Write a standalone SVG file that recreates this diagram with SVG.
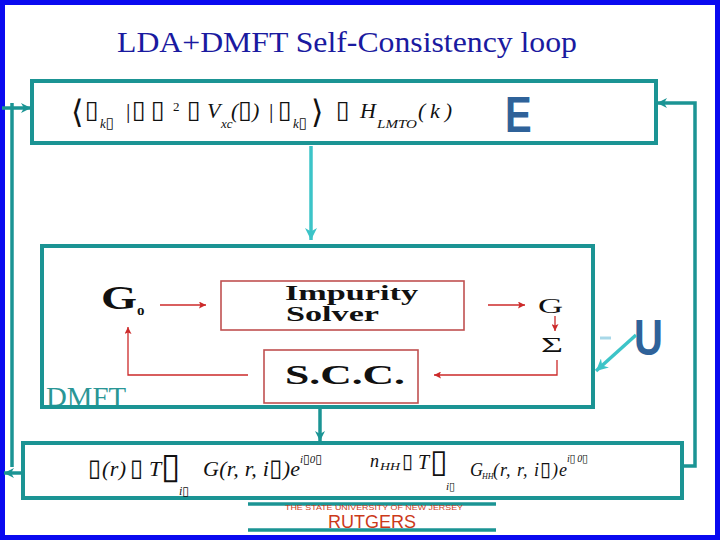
<svg xmlns="http://www.w3.org/2000/svg" width="720" height="540" viewBox="0 0 720 540">
<style>
.teal{fill:none;stroke:#1b9494;stroke-width:4}
.conn{fill:none;stroke:#1b9494;stroke-width:3.5}
.cyan{fill:none;stroke:#3cc4c8;stroke-width:3.5}
.red{fill:none;stroke:#cc2a2a;stroke-width:1.3}
.rbox{fill:none;stroke:#c05050;stroke-width:1.6}
.math{font-family:"Liberation Serif",serif;font-style:italic;fill:#111}
.rm{font-family:"Liberation Serif",serif;font-style:normal;fill:#111}
.tofu{font-family:"DejaVu Sans",sans-serif;font-style:normal;fill:#111}
.sb{font-family:"Liberation Serif",serif;font-weight:bold;fill:#111}
.big{font-family:"Liberation Sans",Arial,sans-serif;font-weight:bold;fill:#2f6299}
.rut{font-family:"Liberation Sans",Arial,sans-serif;fill:#cc3a1a}
</style>
<defs>
<marker id="ahT" viewBox="0 0 10 10" refX="10" refY="5" markerUnits="userSpaceOnUse" markerWidth="10" markerHeight="10" orient="auto"><path d="M0,0 L10,5 L0,10 L3,5 z" fill="#1b9494"/></marker>
<marker id="ahC" viewBox="0 0 10 10" refX="10" refY="5" markerUnits="userSpaceOnUse" markerWidth="12" markerHeight="12" orient="auto"><path d="M0,0 L10,5 L0,10 L3,5 z" fill="#3cc4c8"/></marker>
<marker id="ahR" viewBox="0 0 10 10" refX="10" refY="5" markerUnits="userSpaceOnUse" markerWidth="8" markerHeight="7" orient="auto"><path d="M0,0 L10,5 L0,10 L2,5 z" fill="#cc2a2a"/></marker>
</defs>
<rect width="720" height="540" fill="#ffffff"/>
<rect x="2.5" y="2.5" width="715" height="535" fill="none" stroke="#0a0af0" stroke-width="5"/>
<text x="117" y="52" font-family="Liberation Serif, serif" font-size="30" textLength="460" lengthAdjust="spacingAndGlyphs" fill="#1a1aa0">LDA+DMFT Self-Consistency loop</text>

<g id="lda-box">
<rect x="32" y="81" width="624" height="62" class="teal"/>
<text x="71" y="123" class="tofu" font-size="32">⟨</text>
<text x="85" y="118" class="tofu" font-size="25">▯</text>
<text x="100" y="128" class="math" font-size="13">k<tspan class="tofu" font-size="15">▯</tspan></text>
<text x="126" y="118" class="rm" font-size="22">|</text>
<text x="132" y="118" class="tofu" font-size="25">▯</text>
<text x="151" y="118" class="tofu" font-size="25">▯</text>
<text x="173" y="111" class="rm" font-size="13">2</text>
<text x="187" y="118" class="tofu" font-size="25">▯</text>
<text x="207" y="118" class="math" font-size="22">V</text>
<text x="221" y="128" class="math" font-size="13">xc</text>
<text x="231" y="118" class="math" font-size="22">(<tspan class="tofu" font-size="25">▯</tspan>)</text>
<text x="269" y="118" class="rm" font-size="22">|</text>
<text x="278" y="118" class="tofu" font-size="25">▯</text>
<text x="293" y="128" class="math" font-size="13">k<tspan class="tofu" font-size="15">▯</tspan></text>
<text x="311" y="123" class="tofu" font-size="32">⟩</text>
<text x="336" y="118" class="tofu" font-size="25">▯</text>
<text x="360" y="118" class="math" font-size="22">H</text>
<text x="377" y="128" class="math" font-size="13" textLength="40" lengthAdjust="spacingAndGlyphs">LMTO</text>
<text x="418" y="118" class="math" font-size="22" textLength="34" lengthAdjust="spacing">(k)</text>
<text class="big" font-size="40" transform="translate(505,132) scale(1,1.27)">E</text>
</g>

<g id="dmft-box">
<text x="46" y="406" font-family="Liberation Serif, serif" font-size="27" fill="#2a9696" textLength="80" lengthAdjust="spacingAndGlyphs">DMFT</text>
<rect x="42" y="246" width="551" height="161" class="teal"/>
</g>

<g id="g0">
<text x="101" y="309" class="sb" font-size="33" textLength="36" lengthAdjust="spacingAndGlyphs">G</text>
<text x="137" y="315" class="sb" font-size="15">o</text>
</g>

<g id="impurity-solver">
<rect x="221" y="281" width="243" height="49" class="rbox"/>
<text x="285" y="300" class="sb" font-size="20" textLength="133" lengthAdjust="spacingAndGlyphs">Impurity</text>
<text x="286" y="321" class="sb" font-size="20" textLength="93" lengthAdjust="spacingAndGlyphs">Solver</text>
</g>

<g id="g">
<text x="538" y="313" class="rm" font-size="21" textLength="25" lengthAdjust="spacingAndGlyphs">G</text>
</g>

<g id="sigma">
<text x="541" y="352" class="rm" font-size="21" textLength="22" lengthAdjust="spacingAndGlyphs">Σ</text>
</g>

<g id="scc">
<rect x="264" y="350" width="154" height="53" class="rbox"/>
<text x="285" y="384" class="sb" font-size="27" textLength="120" lengthAdjust="spacingAndGlyphs">S.C.C.</text>
</g>

<g id="u-label">
<text class="big" font-size="40" transform="translate(634,355) scale(1,1.25)">U</text>
</g>

<g id="density-box">
<rect x="23" y="443" width="659" height="55" class="teal"/>
<text x="88" y="476" class="tofu" font-size="24">▯</text>
<text x="102" y="476" class="math" font-size="22" textLength="24" lengthAdjust="spacing">(r)</text>
<text x="130" y="476" class="tofu" font-size="24">▯</text>
<text x="149" y="476" class="math" font-size="22">T</text>
<text x="161" y="478" class="tofu" font-size="36">▯</text>
<text x="179" y="495" class="math" font-size="12">i<tspan class="tofu" font-size="12">▯</tspan></text>
<text x="203" y="476" class="math" font-size="22" textLength="97" lengthAdjust="spacing">G(r, r, i<tspan class="tofu" font-size="24">▯</tspan>)e</text>
<text x="300" y="463" class="math" font-size="11">i<tspan class="tofu" font-size="12">▯</tspan>0<tspan class="tofu" font-size="12">▯</tspan></text>
<text x="370" y="467" class="math" font-size="18">n</text>
<text x="380" y="470" class="math" font-size="10" textLength="20" lengthAdjust="spacingAndGlyphs">HH</text>
<text x="402" y="468" class="tofu" font-size="20">▯</text>
<text x="418" y="469" class="math" font-size="20">T</text>
<text x="430" y="472" class="tofu" font-size="32">▯</text>
<text x="446" y="490" class="math" font-size="11">i<tspan class="tofu" font-size="11">▯</tspan></text>
<text x="470" y="476" class="math" font-size="18">G</text>
<text x="482" y="479" class="math" font-size="8">HH</text>
<text x="493" y="476" class="math" font-size="18" textLength="74" lengthAdjust="spacing">(r, r, i<tspan class="tofu" font-size="20">▯</tspan>)e</text>
<text x="567" y="462" class="math" font-size="10" textLength="21" lengthAdjust="spacing">i<tspan class="tofu" font-size="11">▯</tspan> 0<tspan class="tofu" font-size="11">▯</tspan></text>
</g>

<g id="rutgers-logo">
<line x1="248" y1="504" x2="496" y2="504" stroke="#1b9494" stroke-width="3.5"/>
<line x1="248" y1="530" x2="496" y2="530" stroke="#1b9494" stroke-width="3.5"/>
<text x="285" y="510" class="rut" font-size="7.5" textLength="178" lengthAdjust="spacingAndGlyphs">THE STATE UNIVERSITY OF NEW JERSEY</text>
<text x="328" y="528" class="rut" font-size="18">RUTGERS</text>
</g>

<g id="connectors">
<line x1="311" y1="146" x2="311" y2="240" class="cyan" marker-end="url(#ahC)"/>
<line x1="320" y1="409" x2="320" y2="441" class="conn" marker-end="url(#ahT)"/>
<path d="M682,466 H695 V103 H657" class="conn" marker-end="url(#ahT)"/>
<path d="M2,108 H31" class="conn" marker-end="url(#ahT)"/>
<line x1="12" y1="103" x2="12" y2="467" class="conn"/>
<path d="M22,473 H4" class="conn" marker-end="url(#ahT)"/>
<line x1="160" y1="305" x2="206" y2="305" class="red" marker-end="url(#ahR)"/>
<line x1="488" y1="305" x2="525" y2="305" class="red" marker-end="url(#ahR)"/>
<line x1="555" y1="316" x2="555" y2="331" class="red" marker-end="url(#ahR)"/>
<path d="M557,360 V375 H434" class="red" marker-end="url(#ahR)"/>
<path d="M248,375 H128 V327" class="red" marker-end="url(#ahR)"/>
<line x1="636" y1="335" x2="596" y2="371" class="cyan" marker-end="url(#ahC)"/>
<line x1="600" y1="338" x2="611" y2="338" stroke="#a8d8e8" stroke-width="3"/>
</g>
</svg>
